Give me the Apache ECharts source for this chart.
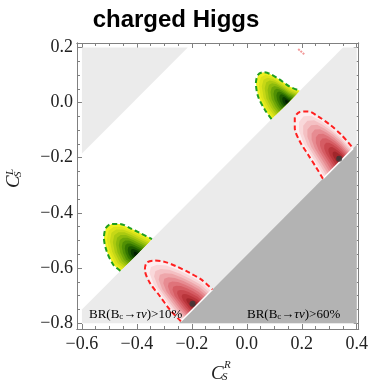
<!DOCTYPE html>
<html><head><meta charset="utf-8">
<script src="https://cdn.jsdelivr.net/npm/echarts@6/dist/echarts.min.js"></script>
<style>html,body{margin:0;padding:0;background:#fff}#c{width:371px;height:382px}</style>
</head><body><div id="c"></div>
<script>
// ---- axes / ticks ----
const xMajorTicks = [-0.6, -0.4, -0.2, 0, 0.2, 0.4];
const xMinorTicks = [-0.55, -0.5, -0.45, -0.35, -0.3, -0.25, -0.15, -0.1, -0.05, 0.05, 0.1, 0.15, 0.25, 0.3, 0.35];
const yMajorTicks = [-0.8, -0.6, -0.4, -0.2, 0, 0.2];
const yMinorTicks = [-0.75, -0.7, -0.65, -0.55, -0.5, -0.45, -0.35, -0.3, -0.25, -0.15, -0.1, -0.05, 0.05, 0.1, 0.15];

// ---- excluded regions (C_S^R, C_S^L) ----
const br10UpperRegion = [[-0.6, 0.2], [-0.215, 0.2], [-0.6, -0.185]];
const br10LowerRegion = [[-0.6, -0.75], [-0.6, -0.8], [0.4, -0.8], [0.4, 0.2], [0.35, 0.2]];
const br60Region = [[-0.247, -0.8], [0.4, -0.8], [0.4, -0.153]];

// ---- fit regions: outer boundary, best-fit corner ----
const greenUpper = [[0.090, -0.060], [0.0655, -0.026], [0.041, 0.022], [0.033, 0.071], [0.041, 0.101], [0.059, 0.110], [0.084, 0.104], [0.120, 0.083], [0.156, 0.058], [0.193, 0.043]];
const greenUpperPeak = [0.150, 0.000];
const greenLower = [[-0.460, -0.610], [-0.486, -0.588], [-0.510, -0.539], [-0.520, -0.491], [-0.513, -0.455], [-0.492, -0.440], [-0.462, -0.440], [-0.425, -0.455], [-0.389, -0.473], [-0.345, -0.495]];
const greenLowerPeak = [-0.401, -0.551];
const redUpper = [[0.277, -0.276], [0.2535, -0.237], [0.223, -0.189], [0.193, -0.141], [0.1745, -0.092], [0.1745, -0.056], [0.193, -0.034], [0.223, -0.032], [0.259, -0.050], [0.302, -0.080], [0.344, -0.117], [0.387, -0.166]];
const redUpperPeak = [0.343, -0.210];
const redUpperBest = [0.336, -0.204];
const redLower = [[-0.240, -0.793], [-0.280, -0.751], [-0.316, -0.7025], [-0.3527, -0.654], [-0.371, -0.606], [-0.365, -0.5815], [-0.341, -0.573], [-0.304, -0.576], [-0.2556, -0.594], [-0.207, -0.618], [-0.165, -0.642], [-0.125, -0.678]];
const redLowerPeak = [-0.187, -0.740];
const redLowerBest = [-0.1975, -0.729];
const redSpeck = [[0.187, 0.194], [0.211, 0.173]];

const greenLevels = ['#eef020', '#dde41a', '#c6d816', '#aaca10', '#8dba0c', '#6ea608', '#509004', '#347600', '#1c5a00', '#0a3c00', '#021e00'];
const redLevels = ['#fdeef0', '#f9d8da', '#f4c0c3', '#eea6aa', '#e78c92', '#df737a', '#d55c63', '#c9474e', '#b9353b', '#a2262b', '#841c1f'];

const xMin = -0.618, xMax = 0.407, yMin = -0.821, yMax = 0.216;
const frameColor = '#808080';
const fmt = v => { const a = Math.abs(v).toFixed(1); return v < -1e-9 ? '\u2212' + a : a; };

function regionSeries(pts, color, z) {
  return {
    type: 'custom', xAxisIndex: 0, yAxisIndex: 0, data: pts, z: z, silent: true,
    renderItem: (params, api) => params.dataIndex !== 0 ? null : ({
      type: 'polygon', shape: { points: pts.map(p => api.coord(p)) }, style: { fill: color }
    })
  };
}
function blobSeries(outline, focus, colors) {
  return {
    type: 'custom', xAxisIndex: 0, yAxisIndex: 0, data: outline, z: 3, silent: true,
    renderItem: (params, api) => {
      if (params.dataIndex !== 0) return null;
      const f = api.coord(focus);
      const pts = outline.map(p => api.coord(p));
      const n = colors.length;
      return {
        type: 'group',
        children: colors.map((c, k) => {
          const s = 1 - k / n;
          return { type: 'polygon', shape: { points: pts.map(p => [f[0] + s * (p[0] - f[0]), f[1] + s * (p[1] - f[1])]) }, style: { fill: c } };
        })
      };
    }
  };
}
function dashSeries(pts, color) {
  return { type: 'line', data: pts, symbol: 'none', smooth: 0.3, z: 4, silent: true,
    lineStyle: { color: color, width: 2, type: [5, 3] } };
}
function cutEdge(pts) {
  return { type: 'line', data: [pts[pts.length - 1], pts[0]], symbol: 'none', z: 4, silent: true,
    lineStyle: { color: '#ffffff', width: 1.5 } };
}

function xAx(pos, ticks, len, labels) {
  return { type: 'value', position: pos, min: xMin, max: xMax,
    axisLine: { show: true, onZero: false, lineStyle: { color: frameColor, width: 1 } },
    axisTick: { show: true, inside: true, length: len, customValues: ticks, lineStyle: { color: frameColor } },
    axisLabel: labels ? { show: true, customValues: ticks, formatter: fmt, fontFamily: 'Liberation Serif', fontSize: 18, color: '#222', margin: 6 } : { show: false },
    splitLine: { show: false } };
}
function yAx(pos, ticks, len, labels) {
  return { type: 'value', position: pos, min: yMin, max: yMax,
    axisLine: { show: true, onZero: false, lineStyle: { color: frameColor, width: 1 } },
    axisTick: { show: true, inside: true, length: len, customValues: ticks, lineStyle: { color: frameColor } },
    axisLabel: labels ? { show: true, customValues: ticks, formatter: fmt, fontFamily: 'Liberation Serif', fontSize: 18, color: '#222', margin: 4 } : { show: false },
    splitLine: { show: false } };
}

const chart = echarts.init(document.getElementById('c'), null, { renderer: 'canvas' });
const serif = 'Liberation Serif';
chart.setOption({
  animation: false,
  backgroundColor: '#ffffff',
  grid: { left: 77, right: 12, top: 43, bottom: 53, containLabel: false },
  xAxis: [xAx('bottom', xMajorTicks, 5, true), xAx('bottom', xMinorTicks, 3, false), xAx('top', xMajorTicks, 5, false), xAx('top', xMinorTicks, 3, false)],
  yAxis: [yAx('left', yMajorTicks, 5, true), yAx('left', yMinorTicks, 3, false), yAx('right', yMajorTicks, 5, false), yAx('right', yMinorTicks, 3, false)],
  series: [
    regionSeries(br10UpperRegion, '#ebebeb', 1),
    regionSeries(br10LowerRegion, '#ebebeb', 1),
    regionSeries(br60Region, '#b3b3b3', 2),
    blobSeries(greenUpper, greenUpperPeak, greenLevels),
    blobSeries(greenLower, greenLowerPeak, greenLevels),
    blobSeries(redUpper, redUpperPeak, redLevels),
    blobSeries(redLower, redLowerPeak, redLevels),
    cutEdge(redUpper),
    cutEdge(redLower),
    dashSeries(greenUpper, '#1f9e1f'),
    dashSeries(greenLower, '#1f9e1f'),
    dashSeries(redUpper, '#ff2020'),
    dashSeries(redLower, '#ff2020'),
    { type: 'line', data: redSpeck, symbol: 'none', z: 4, silent: true, lineStyle: { color: '#f29a9a', width: 2, type: [2, 1] } },
    { type: 'scatter', data: [redUpperBest, redLowerBest], symbol: 'circle', symbolSize: 6, z: 5, silent: true, itemStyle: { color: '#3a3a3a' } }
  ],
  graphic: [
    { type: 'text', x: 176, y: 20, style: { text: 'charged Higgs', font: 'bold 24px "Liberation Sans"', fill: '#000', align: 'center', verticalAlign: 'middle' } },
    { type: 'text', x: 211, y: 373.5, style: { text: 'C', font: 'italic 19px "Liberation Serif"', fill: '#222', verticalAlign: 'middle' } },
    { type: 'text', x: 224, y: 365, style: { text: 'R', font: 'italic 11px "Liberation Serif"', fill: '#222', verticalAlign: 'middle' } },
    { type: 'text', x: 222, y: 377, style: { text: 'S', font: 'italic 11px "Liberation Serif"', fill: '#222', verticalAlign: 'middle' } },
    { type: 'group', x: 14, y: 178, rotation: Math.PI / 2, children: [
      { type: 'text', x: -10, y: 0, style: { text: 'C', font: 'italic 19px "Liberation Serif"', fill: '#222', verticalAlign: 'middle' } },
      { type: 'text', x: 3, y: -4, style: { text: 'L', font: 'italic 11px "Liberation Serif"', fill: '#222', verticalAlign: 'middle' } },
      { type: 'text', x: 1, y: 4, style: { text: 'S', font: 'italic 11px "Liberation Serif"', fill: '#222', verticalAlign: 'middle' } }
    ] },
    { type: 'text', x: 89, y: 314.5, z: 10, style: { text: '{n|BR(B}{s|c}{n|\u2192}{i|\u03c4\u03bd}{n|)>10%}', verticalAlign: 'middle', rich: {
      n: { fontFamily: serif, fontSize: 13, color: '#333' }, s: { fontFamily: serif, fontSize: 9, color: '#333', padding: [5, 0, 0, 0] }, i: { fontFamily: serif, fontStyle: 'italic', fontSize: 13, color: '#333' } } } },
    { type: 'text', x: 247, y: 314.5, z: 10, style: { text: '{n|BR(B}{s|c}{n|\u2192}{i|\u03c4\u03bd}{n|)>60%}', verticalAlign: 'middle', rich: {
      n: { fontFamily: serif, fontSize: 13, color: '#333' }, s: { fontFamily: serif, fontSize: 9, color: '#333', padding: [5, 0, 0, 0] }, i: { fontFamily: serif, fontStyle: 'italic', fontSize: 13, color: '#333' } } } }
  ]
});
</script></body></html>
